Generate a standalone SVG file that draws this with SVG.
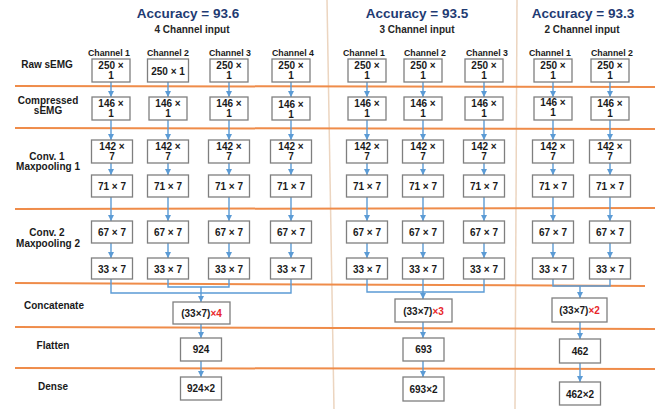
<svg xmlns="http://www.w3.org/2000/svg" width="655" height="409" viewBox="0 0 655 409">
<defs>
<marker id="ah" markerUnits="userSpaceOnUse" markerWidth="7" markerHeight="6" refX="6" refY="3" orient="auto">
<path d="M0,0 L6,3 L0,6 z" fill="#5b9bd5"/>
</marker>
<style>
.bx{fill:#fff;stroke:#7f7f7f;stroke-width:1.3}
.t{font-family:"Liberation Sans",Arial,sans-serif;font-weight:bold;font-size:10px;fill:#1a1a1a;text-anchor:middle}
.lbl{font-family:"Liberation Sans",Arial,sans-serif;font-weight:bold;font-size:10px;fill:#1a1a1a;text-anchor:middle}
.ch{font-family:"Liberation Sans",Arial,sans-serif;font-weight:bold;font-size:8.8px;fill:#1a1a1a;text-anchor:middle}
.acc{font-family:"Liberation Sans",Arial,sans-serif;font-weight:bold;font-size:13.5px;fill:#1f3b73;text-anchor:middle}
.sub{font-family:"Liberation Sans",Arial,sans-serif;font-weight:bold;font-size:10px;fill:#262626;text-anchor:middle}
.red{fill:#e8262a}
.sep{stroke:#ef8c4a;stroke-width:2;fill:none}
.vsep{stroke:#ecd5c0;stroke-width:1.5;fill:none}
.c{stroke:#5b9bd5;stroke-width:1.4;fill:none}
.a{stroke:#5b9bd5;stroke-width:1.4;fill:none;marker-end:url(#ah)}
</style>
</defs>
<rect width="655" height="409" fill="#fff"/>

<g id="separators">
<line class="vsep" x1="327" y1="0" x2="334" y2="409"/>
<line class="vsep" x1="517" y1="0" x2="515" y2="409"/>
<line class="sep" x1="15" y1="86" x2="655" y2="87"/>
<line class="sep" x1="15" y1="128" x2="655" y2="129"/>
<line class="sep" x1="15" y1="209" x2="655" y2="208"/>
<line class="sep" x1="15" y1="283" x2="645" y2="286"/>
<line class="sep" x1="15" y1="327" x2="655" y2="329"/>
<line class="sep" x1="15" y1="368" x2="655" y2="369"/>
</g>

<g id="headers">
<text class="acc" x="188" y="18">Accuracy = 93.6</text>
<text class="sub" x="192" y="33">4 Channel input</text>
<text class="acc" x="417" y="18">Accuracy = 93.5</text>
<text class="sub" x="417" y="33">3 Channel input</text>
<text class="acc" x="583" y="18">Accuracy = 93.3</text>
<text class="sub" x="582" y="33">2 Channel input</text>
<text class="ch" x="109" y="56">Channel 1</text>
<text class="ch" x="168" y="56">Channel 2</text>
<text class="ch" x="230" y="56">Channel 3</text>
<text class="ch" x="293" y="56">Channel 4</text>
<text class="ch" x="364" y="56">Channel 1</text>
<text class="ch" x="425" y="56">Channel 2</text>
<text class="ch" x="487" y="56">Channel 3</text>
<text class="ch" x="550" y="56">Channel 1</text>
<text class="ch" x="612" y="56">Channel 2</text>
</g>

<g id="row-labels">
<text class="lbl" x="47" y="68">Raw sEMG</text>
<text class="lbl" x="48" y="104">Compressed</text>
<text class="lbl" x="48" y="114">sEMG</text>
<text class="lbl" x="47" y="160">Conv. 1</text>
<text class="lbl" x="48" y="170">Maxpooling 1</text>
<text class="lbl" x="47" y="236">Conv. 2</text>
<text class="lbl" x="48" y="247">Maxpooling 2</text>
<text class="lbl" x="54" y="309">Concatenate</text>
<text class="lbl" x="53" y="349">Flatten</text>
<text class="lbl" x="53" y="390">Dense</text>
</g>

<g id="connectors">
<!-- 4 channel -->
<line class="a" x1="111" y1="82" x2="111" y2="97"/>
<line class="a" x1="168" y1="82" x2="168" y2="97"/>
<line class="a" x1="229" y1="82" x2="229" y2="97"/>
<line class="a" x1="291" y1="82" x2="291" y2="97"/>
<line class="a" x1="111" y1="120" x2="111" y2="140"/>
<line class="a" x1="168" y1="120" x2="168" y2="140"/>
<line class="a" x1="229" y1="120" x2="229" y2="140"/>
<line class="a" x1="291" y1="120" x2="291" y2="140"/>
<line class="a" x1="111" y1="163" x2="111" y2="175"/>
<line class="a" x1="168" y1="163" x2="168" y2="175"/>
<line class="a" x1="229" y1="163" x2="229" y2="175"/>
<line class="a" x1="291" y1="163" x2="291" y2="175"/>
<line class="a" x1="111" y1="197" x2="111" y2="221"/>
<line class="a" x1="168" y1="197" x2="168" y2="221"/>
<line class="a" x1="229" y1="197" x2="229" y2="221"/>
<line class="a" x1="291" y1="197" x2="291" y2="221"/>
<line class="a" x1="111" y1="243" x2="111" y2="258"/>
<line class="a" x1="168" y1="243" x2="168" y2="258"/>
<line class="a" x1="229" y1="243" x2="229" y2="258"/>
<line class="a" x1="291" y1="243" x2="291" y2="258"/>
<polyline class="c" points="111,279 111,293 291,293 291,279"/>
<polyline class="c" points="168,279 168,287 229,287 229,279"/>
<line class="a" x1="201" y1="287" x2="201" y2="302"/>
<line class="a" x1="201" y1="324" x2="201" y2="338"/>
<line class="a" x1="201" y1="361" x2="201" y2="377"/>
<!-- 3 channel -->
<line class="a" x1="367" y1="82" x2="367" y2="97"/>
<line class="a" x1="423" y1="82" x2="423" y2="97"/>
<line class="a" x1="484" y1="82" x2="484" y2="97"/>
<line class="a" x1="367" y1="120" x2="367" y2="140"/>
<line class="a" x1="423" y1="120" x2="423" y2="140"/>
<line class="a" x1="484" y1="120" x2="484" y2="140"/>
<line class="a" x1="367" y1="163" x2="367" y2="175"/>
<line class="a" x1="423" y1="163" x2="423" y2="175"/>
<line class="a" x1="484" y1="163" x2="484" y2="175"/>
<line class="a" x1="367" y1="197" x2="367" y2="221"/>
<line class="a" x1="423" y1="197" x2="423" y2="221"/>
<line class="a" x1="484" y1="197" x2="484" y2="221"/>
<line class="a" x1="367" y1="243" x2="367" y2="258"/>
<line class="a" x1="423" y1="243" x2="423" y2="258"/>
<line class="a" x1="484" y1="243" x2="484" y2="258"/>
<polyline class="c" points="367,279 367,292 484,292 484,279"/>
<line class="a" x1="423" y1="279" x2="423" y2="299"/>
<line class="a" x1="423" y1="322" x2="423" y2="338"/>
<line class="a" x1="423" y1="361" x2="423" y2="377"/>
<!-- 2 channel -->
<line class="a" x1="553" y1="82" x2="553" y2="97"/>
<line class="a" x1="610" y1="82" x2="610" y2="97"/>
<line class="a" x1="553" y1="120" x2="553" y2="140"/>
<line class="a" x1="610" y1="120" x2="610" y2="140"/>
<line class="a" x1="553" y1="163" x2="553" y2="175"/>
<line class="a" x1="610" y1="163" x2="610" y2="175"/>
<line class="a" x1="553" y1="197" x2="553" y2="221"/>
<line class="a" x1="610" y1="197" x2="610" y2="221"/>
<line class="a" x1="553" y1="243" x2="553" y2="258"/>
<line class="a" x1="610" y1="243" x2="610" y2="258"/>
<polyline class="c" points="553,279 553,286 610,286 610,279"/>
<line class="a" x1="580" y1="286" x2="580" y2="298"/>
<line class="a" x1="580" y1="322" x2="580" y2="339"/>
<line class="a" x1="580" y1="363" x2="580" y2="382"/>
</g>

<!-- Raw sEMG -->
<g id="raw-4-1"><rect class="bx" x="92" y="59" width="38" height="23"/><text class="t" x="111" y="69">250 ×</text><text class="t" x="111" y="79">1</text></g>
<g id="raw-4-2"><rect class="bx" x="147.5" y="59" width="41" height="23"/><text class="t" x="168" y="75">250 × 1</text></g>
<g id="raw-4-3"><rect class="bx" x="210" y="59" width="38" height="23"/><text class="t" x="229" y="69">250 ×</text><text class="t" x="229" y="79">1</text></g>
<g id="raw-4-4"><rect class="bx" x="272" y="59" width="38" height="23"/><text class="t" x="291" y="69">250 ×</text><text class="t" x="291" y="79">1</text></g>
<g id="raw-3-1"><rect class="bx" x="348" y="59" width="38" height="23"/><text class="t" x="367" y="69">250 ×</text><text class="t" x="367" y="79">1</text></g>
<g id="raw-3-2"><rect class="bx" x="404" y="59" width="38" height="23"/><text class="t" x="423" y="69">250 ×</text><text class="t" x="423" y="79">1</text></g>
<g id="raw-3-3"><rect class="bx" x="465" y="59" width="38" height="23"/><text class="t" x="484" y="69">250 ×</text><text class="t" x="484" y="79">1</text></g>
<g id="raw-2-1"><rect class="bx" x="534" y="59" width="38" height="23"/><text class="t" x="553" y="69">250 ×</text><text class="t" x="553" y="79">1</text></g>
<g id="raw-2-2"><rect class="bx" x="591" y="59" width="38" height="23"/><text class="t" x="610" y="69">250 ×</text><text class="t" x="610" y="79">1</text></g>

<!-- Compressed -->
<g id="comp-4-1"><rect class="bx" x="92" y="97" width="38" height="23"/><text class="t" x="111" y="107">146 ×</text><text class="t" x="111" y="117">1</text></g>
<g id="comp-4-2"><rect class="bx" x="149" y="97" width="38" height="23"/><text class="t" x="168" y="107">146 ×</text><text class="t" x="168" y="117">1</text></g>
<g id="comp-4-3"><rect class="bx" x="210" y="97" width="38" height="23"/><text class="t" x="229" y="107">146 ×</text><text class="t" x="229" y="117">1</text></g>
<g id="comp-4-4"><rect class="bx" x="272" y="97" width="38" height="23"/><text class="t" x="291" y="108">146 ×</text><text class="t" x="291" y="118">1</text></g>
<g id="comp-3-1"><rect class="bx" x="348" y="97" width="38" height="23"/><text class="t" x="367" y="107">146 ×</text><text class="t" x="367" y="117">1</text></g>
<g id="comp-3-2"><rect class="bx" x="404" y="97" width="38" height="23"/><text class="t" x="423" y="107">146 ×</text><text class="t" x="423" y="117">1</text></g>
<g id="comp-3-3"><rect class="bx" x="465" y="97" width="38" height="23"/><text class="t" x="484" y="107">146 ×</text><text class="t" x="484" y="117">1</text></g>
<g id="comp-2-1"><rect class="bx" x="534" y="97" width="38" height="23"/><text class="t" x="553" y="106">146 ×</text><text class="t" x="553" y="116">1</text></g>
<g id="comp-2-2"><rect class="bx" x="591" y="97" width="38" height="23"/><text class="t" x="610" y="107">146 ×</text><text class="t" x="610" y="117">1</text></g>

<!-- Conv1 -->
<g id="conv1-4-1"><rect class="bx" x="91.5" y="140" width="41" height="23"/><text class="t" x="112" y="150">142 ×</text><text class="t" x="112" y="160">7</text></g>
<g id="conv1-4-2"><rect class="bx" x="147.5" y="140" width="41" height="23"/><text class="t" x="168" y="150">142 ×</text><text class="t" x="168" y="160">7</text></g>
<g id="conv1-4-3"><rect class="bx" x="208.5" y="140" width="41" height="23"/><text class="t" x="229" y="150">142 ×</text><text class="t" x="229" y="160">7</text></g>
<g id="conv1-4-4"><rect class="bx" x="270.5" y="140" width="41" height="23"/><text class="t" x="291" y="150">142 ×</text><text class="t" x="291" y="160">7</text></g>
<g id="conv1-3-1"><rect class="bx" x="346.5" y="140" width="41" height="23"/><text class="t" x="367" y="150">142 ×</text><text class="t" x="367" y="160">7</text></g>
<g id="conv1-3-2"><rect class="bx" x="402.5" y="140" width="41" height="23"/><text class="t" x="423" y="150">142 ×</text><text class="t" x="423" y="160">7</text></g>
<g id="conv1-3-3"><rect class="bx" x="463.5" y="140" width="41" height="23"/><text class="t" x="484" y="150">142 ×</text><text class="t" x="484" y="160">7</text></g>
<g id="conv1-2-1"><rect class="bx" x="532.5" y="140" width="41" height="23"/><text class="t" x="553" y="150">142 ×</text><text class="t" x="553" y="160">7</text></g>
<g id="conv1-2-2"><rect class="bx" x="589.5" y="140" width="41" height="23"/><text class="t" x="610" y="150">142 ×</text><text class="t" x="610" y="160">7</text></g>

<!-- Maxpool1 -->
<g id="mp1-4-1"><rect class="bx" x="91.5" y="175" width="41" height="22"/><text class="t" x="112" y="190">71 × 7</text></g>
<g id="mp1-4-2"><rect class="bx" x="147.5" y="175" width="41" height="22"/><text class="t" x="168" y="190">71 × 7</text></g>
<g id="mp1-4-3"><rect class="bx" x="208.5" y="175" width="41" height="22"/><text class="t" x="229" y="190">71 × 7</text></g>
<g id="mp1-4-4"><rect class="bx" x="270.5" y="175" width="41" height="22"/><text class="t" x="291" y="190">71 × 7</text></g>
<g id="mp1-3-1"><rect class="bx" x="346.5" y="175" width="41" height="22"/><text class="t" x="367" y="190">71 × 7</text></g>
<g id="mp1-3-2"><rect class="bx" x="402.5" y="175" width="41" height="22"/><text class="t" x="423" y="190">71 × 7</text></g>
<g id="mp1-3-3"><rect class="bx" x="463.5" y="175" width="41" height="22"/><text class="t" x="484" y="190">71 × 7</text></g>
<g id="mp1-2-1"><rect class="bx" x="532.5" y="175" width="41" height="22"/><text class="t" x="553" y="190">71 × 7</text></g>
<g id="mp1-2-2"><rect class="bx" x="589.5" y="175" width="41" height="22"/><text class="t" x="610" y="190">71 × 7</text></g>

<!-- Conv2 -->
<g id="conv2-4-1"><rect class="bx" x="91.5" y="221" width="41" height="22"/><text class="t" x="112" y="236">67 × 7</text></g>
<g id="conv2-4-2"><rect class="bx" x="147.5" y="221" width="41" height="22"/><text class="t" x="168" y="236">67 × 7</text></g>
<g id="conv2-4-3"><rect class="bx" x="208.5" y="221" width="41" height="22"/><text class="t" x="229" y="236">67 × 7</text></g>
<g id="conv2-4-4"><rect class="bx" x="270.5" y="221" width="41" height="22"/><text class="t" x="291" y="236">67 × 7</text></g>
<g id="conv2-3-1"><rect class="bx" x="346.5" y="221" width="41" height="22"/><text class="t" x="367" y="236">67 × 7</text></g>
<g id="conv2-3-2"><rect class="bx" x="402.5" y="221" width="41" height="22"/><text class="t" x="423" y="236">67 × 7</text></g>
<g id="conv2-3-3"><rect class="bx" x="463.5" y="221" width="41" height="22"/><text class="t" x="484" y="236">67 × 7</text></g>
<g id="conv2-2-1"><rect class="bx" x="532.5" y="221" width="41" height="22"/><text class="t" x="553" y="236">67 × 7</text></g>
<g id="conv2-2-2"><rect class="bx" x="589.5" y="221" width="41" height="22"/><text class="t" x="610" y="236">67 × 7</text></g>

<!-- Maxpool2 -->
<g id="mp2-4-1"><rect class="bx" x="91.5" y="258" width="41" height="21"/><text class="t" x="112" y="273">33 × 7</text></g>
<g id="mp2-4-2"><rect class="bx" x="147.5" y="258" width="41" height="21"/><text class="t" x="168" y="273">33 × 7</text></g>
<g id="mp2-4-3"><rect class="bx" x="208.5" y="258" width="41" height="21"/><text class="t" x="229" y="273">33 × 7</text></g>
<g id="mp2-4-4"><rect class="bx" x="270.5" y="258" width="41" height="21"/><text class="t" x="291" y="273">33 × 7</text></g>
<g id="mp2-3-1"><rect class="bx" x="346.5" y="258" width="41" height="21"/><text class="t" x="367" y="273">33 × 7</text></g>
<g id="mp2-3-2"><rect class="bx" x="402.5" y="258" width="41" height="21"/><text class="t" x="423" y="273">33 × 7</text></g>
<g id="mp2-3-3"><rect class="bx" x="463.5" y="258" width="41" height="21"/><text class="t" x="484" y="273">33 × 7</text></g>
<g id="mp2-2-1"><rect class="bx" x="532.5" y="258" width="41" height="21"/><text class="t" x="553" y="273">33 × 7</text></g>
<g id="mp2-2-2"><rect class="bx" x="589.5" y="258" width="41" height="21"/><text class="t" x="610" y="273">33 × 7</text></g>

<!-- Concatenate / Flatten / Dense -->
<g id="concat-4"><rect class="bx" x="173" y="302" width="57" height="22"/><text class="t" x="201.5" y="317">(33×7)<tspan class="red">×4</tspan></text></g>
<g id="flatten-4"><rect class="bx" x="180.5" y="338" width="41" height="23"/><text class="t" x="201" y="353">924</text></g>
<g id="dense-4"><rect class="bx" x="180.5" y="377" width="41" height="23"/><text class="t" x="201" y="392">924×2</text></g>
<g id="concat-3"><rect class="bx" x="395" y="299" width="57" height="23"/><text class="t" x="423.5" y="314.5">(33×7)<tspan class="red">×3</tspan></text></g>
<g id="flatten-3"><rect class="bx" x="403" y="338" width="41" height="23"/><text class="t" x="423.5" y="353">693</text></g>
<g id="dense-3"><rect class="bx" x="403" y="377" width="41" height="24"/><text class="t" x="423.5" y="393">693×2</text></g>
<g id="concat-2"><rect class="bx" x="552" y="298" width="55" height="24"/><text class="t" x="579.5" y="314">(33×7)<tspan class="red">×2</tspan></text></g>
<g id="flatten-2"><rect class="bx" x="559.5" y="339" width="41" height="24"/><text class="t" x="580" y="355">462</text></g>
<g id="dense-2"><rect class="bx" x="559.5" y="382" width="41" height="23"/><text class="t" x="580" y="397.5">462×2</text></g>
</svg>
